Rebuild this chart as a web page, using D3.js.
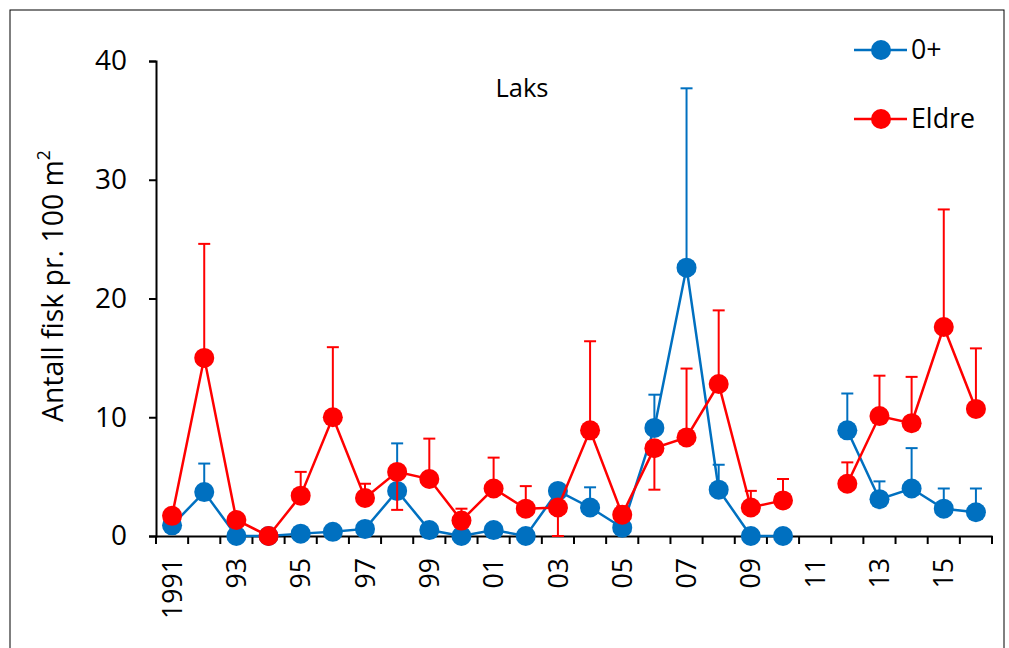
<!DOCTYPE html>
<html><head><meta charset="utf-8">
<script src="https://cdn.jsdelivr.net/npm/d3@7"></script>
<style>body{margin:0;background:#fff;} text{font-family:"Open Sans",sans-serif;}</style>
</head><body>
<svg id="c" width="1009" height="648"></svg>
<script>
const years = d3.range(1991, 2017);
const tickLabels = ["1991","93","95","97","99","01","03","05","07","09","11","13","15"];
const tickYears = [1991,1993,1995,1997,1999,2001,2003,2005,2007,2009,2011,2013,2015];
const seriesNames = ["0+","Eldre"];
const colors = ["#0070C0","#FF0000"];
// value and error-bar end per year (null = missing)
const youngVals = [0.9,3.7,0,0,0.2,0.35,0.6,3.8,0.5,0,0.5,0,3.8,2.4,0.7,9.1,22.6,3.9,0,0,null,8.9,3.1,4.0,2.3,2.0];
const youngErr  = [null,6.1,null,null,null,null,null,7.8,null,null,null,null,null,4.1,null,11.9,37.7,6.0,null,null,null,12.0,4.6,7.4,4.0,4.0];
const olderVals = [1.7,15.0,1.35,0,3.4,10.0,3.2,5.4,4.8,1.3,4.0,2.3,2.4,8.9,1.8,7.4,8.3,12.8,2.4,3.0,null,4.4,10.1,9.5,17.6,10.7];
const olderErr  = [2.2,24.6,null,null,5.4,15.9,4.4,2.2,8.2,2.3,6.6,4.2,0,16.4,2.5,3.9,14.1,19.0,3.8,4.8,null,6.2,13.5,13.4,27.5,15.8];
const yTicks = [0,10,20,30,40];

const svg = d3.select("#c");
function fit(sel, target){ // scale font-size so text width hits target
  const n = sel.node(); const fs = parseFloat(sel.attr("font-size"));
  const w = n.getComputedTextLength(); sel.attr("font-size", fs*target/w);
  return fs*target/w;
}
svg.append("rect").attr("x",10).attr("y",10).attr("width",994).attr("height",660)
  .attr("fill","none").attr("stroke","#000").attr("stroke-width",1);

const x = d3.scaleBand().domain(years).range([156,992]);
const y = d3.scaleLinear().domain([0,40]).range([536,61]);
const cx = d => x(d) + x.bandwidth()/2;

// y axis
const ya = svg.append("g").attr("transform","translate(156,0)")
  .call(d3.axisLeft(y).tickValues(yTicks).tickSize(7).tickPadding(22));
ya.select(".domain").attr("stroke","#000").attr("stroke-width",2);
ya.selectAll(".tick line").attr("stroke","#000").attr("stroke-width",2);
ya.selectAll(".tick text").attr("font-size",24).attr("fill","#000").style("font-family","'Open Sans',sans-serif");
const yfs = fit(ya.selectAll(".tick text").filter(d=>d===40), 32);
ya.selectAll(".tick text").attr("font-size",yfs);

// x axis
const xa = svg.append("g").attr("transform","translate(0,536)")
  .call(d3.axisBottom(x).tickValues([]).tickSizeOuter(0));
xa.select(".domain").attr("stroke","#000").attr("stroke-width",2);
xa.selectAll(".bt").data(years.concat([2017])).enter().append("line")
  .attr("x1",d=>d===2017?992:x(d)).attr("x2",d=>d===2017?992:x(d))
  .attr("y1",0).attr("y2",8).attr("stroke","#000").attr("stroke-width",2);
const xl = xa.selectAll(".lbl").data(tickYears).enter().append("text")
  .attr("text-anchor","end").attr("font-size",22).attr("fill","#000")
  .text((d,i)=>tickLabels[i]);
const xfs = fit(xl.filter(d=>d===1991), 61);
xl.attr("font-size",xfs).attr("transform",(d)=>`translate(${cx(d)+xfs*0.36},22) rotate(-90)`);

// y axis title
const yt = svg.append("text").attr("transform","translate(63,291) rotate(-90)")
  .attr("text-anchor","middle").attr("font-size",19).attr("fill","#000");
const ytm = yt.append("tspan").text("Antall fisk pr. 100 m");
{
  const w = ytm.node().getComputedTextLength();
  yt.attr("font-size", 19*262/w);
}
yt.append("tspan").attr("font-size","0.62em").attr("dy","-0.75em").text("2");
yt.attr("text-anchor","start").attr("transform","translate(63,422) rotate(-90)");

// title
const tt = svg.append("text").attr("x",522).attr("y",97).attr("text-anchor","middle")
  .attr("font-size",21).attr("fill","#000").text("Laks");
fit(tt,53);

const data = [
  {vals: youngVals, errs: youngErr, color: colors[0]},
  {vals: olderVals, errs: olderErr, color: colors[1]}
];
data.forEach(s => {
  const pts = years.map((yr,i)=>({yr, v:s.vals[i], e:s.errs[i]}));
  const g = svg.append("g");
  pts.filter(p=>p.v!==null && p.e!==null).forEach(p=>{
    g.append("line").attr("x1",cx(p.yr)).attr("x2",cx(p.yr))
      .attr("y1",y(p.v)).attr("y2",y(p.e)).attr("stroke",s.color).attr("stroke-width",2);
    g.append("line").attr("x1",cx(p.yr)-6).attr("x2",cx(p.yr)+6)
      .attr("y1",y(p.e)).attr("y2",y(p.e)).attr("stroke",s.color).attr("stroke-width",2);
  });
  const line = d3.line().defined(p=>p.v!==null).x(p=>cx(p.yr)).y(p=>y(p.v));
  g.append("path").datum(pts).attr("d",line).attr("fill","none")
    .attr("stroke",s.color).attr("stroke-width",2.5);
  g.selectAll("circle").data(pts.filter(p=>p.v!==null)).enter().append("circle")
    .attr("cx",p=>cx(p.yr)).attr("cy",p=>y(p.v)).attr("r",10).attr("fill",s.color);
});

// legend
const leg = svg.append("g");
seriesNames.forEach((n,i)=>{
  const ly = [50,119][i];
  leg.append("line").attr("x1",854).attr("x2",907).attr("y1",ly).attr("y2",ly)
    .attr("stroke",colors[i]).attr("stroke-width",2.5);
  leg.append("circle").attr("cx",881).attr("cy",ly).attr("r",10).attr("fill",colors[i]);
  const t = leg.append("text").attr("x",911).attr("y",ly+9).attr("font-size",23).attr("fill","#000").text(n);
  if(i===1) fit(t,64);
});
leg.selectAll("text").attr("font-size", leg.selectAll("text").filter((d,i)=>i===1).attr("font-size"));
</script>
</body></html>
